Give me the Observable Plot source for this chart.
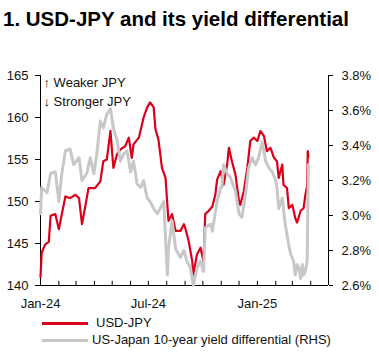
<!DOCTYPE html>
<html>
<head>
<meta charset="utf-8">
<script src="https://cdn.jsdelivr.net/npm/d3@7"></script>
<script src="https://cdn.jsdelivr.net/npm/@observablehq/plot@0.6"></script>
<style>
  html, body { margin: 0; padding: 0; background: #fff; }
  #wrap { position: relative; width: 379px; height: 354px; font-family: "Liberation Sans", Arial, sans-serif; color: #111; }
  #title { position: absolute; left: 3px; top: 9px; font-size: 20.5px; font-weight: bold; line-height: 20px; white-space: nowrap; color: #000; }
  #chart { position: absolute; left: 0; top: 40px; }
  .sw { position: absolute; height: 3px; }
  .lt { position: absolute; font-size: 13px; line-height: 15px; white-space: nowrap; color: #111; }
</style>
</head>
<body>
<div id="wrap">
  <div id="title">1. USD-JPY and its yield differential</div>
  <div id="chart"></div>
  <div class="sw" style="left:42px; top:322px; width:46px; background:#d9001b;"></div>
  <div class="lt" style="left:96px; top:315px;">USD-JPY</div>
  <div class="sw" style="left:42px; top:339px; width:46px; height:3px; background:#c8c8c8;"></div>
  <div class="lt" style="left:92px; top:332px;">US-Japan 10-year yield differential (RHS)</div>
</div>
<script>
// ---- data ----
const usdJpyDates = [
  "2024-01-01","2024-01-03","2024-01-09","2024-01-15","2024-01-18","2024-01-26","2024-02-01","2024-02-06",
  "2024-02-12","2024-02-20","2024-02-29","2024-03-06","2024-03-11","2024-03-17","2024-03-22","2024-04-02",
  "2024-04-11","2024-04-16","2024-04-22","2024-04-28","2024-05-03","2024-05-09","2024-05-15","2024-05-23",
  "2024-05-29","2024-06-03","2024-06-06","2024-06-15","2024-06-23","2024-06-29","2024-07-04","2024-07-10",
  "2024-07-13","2024-07-18","2024-07-24","2024-07-30","2024-08-02","2024-08-04","2024-08-10","2024-08-16",
  "2024-08-24","2024-08-30","2024-09-01","2024-09-07","2024-09-13","2024-09-15","2024-09-21","2024-09-27",
  "2024-10-02","2024-10-05","2024-10-11","2024-10-17","2024-10-22","2024-10-25","2024-10-31","2024-11-05",
  "2024-11-11","2024-11-14","2024-11-19","2024-11-25","2024-12-01","2024-12-03","2024-12-09","2024-12-15",
  "2024-12-20","2024-12-26","2025-01-01","2025-01-06","2025-01-12","2025-01-17","2025-01-23","2025-01-29",
  "2025-02-03","2025-02-06","2025-02-12","2025-02-14","2025-02-20","2025-02-23","2025-03-01","2025-03-06",
  "2025-03-09","2025-03-15","2025-03-20","2025-03-23","2025-03-26","2025-03-27","2025-03-28"
];
const usdJpyValues = [
  141.0,143.9,144.9,145.2,148.3,148.5,146.7,148.5,
  150.6,150.4,150.8,150.4,147.3,149.6,151.6,151.6,
  152.4,154.8,155.0,158.4,154.0,155.6,156.2,156.6,
  157.6,155.2,156.8,157.6,160.0,161.2,161.8,161.2,
  158.6,157.4,154.0,152.8,149.7,147.7,148.5,146.5,
  146.5,147.3,146.9,145.3,142.9,141.3,143.7,144.5,
  142.9,148.5,148.9,149.4,150.8,152.6,153.6,152.0,
  154.4,156.4,154.8,153.2,150.0,149.6,151.2,154.0,
  157.2,157.6,157.2,158.4,157.8,156.0,156.4,155.2,
  154.8,152.8,154.4,152.0,151.6,149.2,149.6,148.0,
  147.5,148.9,149.2,150.8,151.9,156.0,155.3
];
const spreadDates = [
  "2024-01-01","2024-01-03","2024-01-12","2024-01-18","2024-01-26","2024-02-01","2024-02-06","2024-02-12",
  "2024-02-20","2024-02-26","2024-03-06","2024-03-11","2024-03-19","2024-03-25","2024-03-31","2024-04-05",
  "2024-04-11","2024-04-16","2024-04-22","2024-04-28","2024-05-03","2024-05-09","2024-05-15","2024-05-20",
  "2024-05-26","2024-06-01","2024-06-06","2024-06-12","2024-06-18","2024-06-23","2024-06-29","2024-07-04",
  "2024-07-10","2024-07-16","2024-07-21","2024-07-27","2024-08-02","2024-08-04","2024-08-10","2024-08-16",
  "2024-08-24","2024-08-30","2024-09-04","2024-09-10","2024-09-15","2024-09-21","2024-09-27","2024-10-02",
  "2024-10-05","2024-10-14","2024-10-17","2024-10-25","2024-10-31","2024-11-02","2024-11-05","2024-11-11",
  "2024-11-16","2024-11-25","2024-12-01","2024-12-06","2024-12-12","2024-12-17","2024-12-23","2024-12-29",
  "2025-01-03","2025-01-09","2025-01-15","2025-01-21","2025-01-26","2025-02-01","2025-02-03","2025-02-06",
  "2025-02-12","2025-02-17","2025-02-23","2025-02-26","2025-03-03","2025-03-06","2025-03-09","2025-03-12",
  "2025-03-15","2025-03-18","2025-03-20","2025-03-23","2025-03-26","2025-03-28"
];
const spreadValues = [
  3.01,3.16,3.13,3.24,3.25,3.08,3.24,3.37,
  3.38,3.29,3.33,3.20,3.24,3.33,3.24,3.35,
  3.54,3.50,3.58,3.61,3.50,3.43,3.31,3.35,
  3.37,3.25,3.31,3.18,3.16,3.20,3.10,3.08,
  3.04,3.01,3.04,3.08,2.66,2.81,2.97,2.81,
  2.76,2.80,2.74,2.70,2.60,2.70,2.74,2.68,
  2.93,2.95,2.91,3.08,3.16,3.16,3.29,3.24,
  3.22,3.14,3.01,2.99,3.12,3.27,3.33,3.29,
  3.33,3.42,3.31,3.27,3.25,3.20,3.16,3.04,
  3.10,2.95,2.83,2.78,2.74,2.66,2.72,2.70,
  2.64,2.72,2.66,2.68,2.74,3.29
];
const leftTicks = [140, 145, 150, 155, 160, 165];
const rightTicks = [2.6, 2.8, 3.0, 3.2, 3.4, 3.6, 3.8];
const xLabelDates = ["2024-01-01", "2024-07-01", "2025-01-01"];
const xStart = "2024-01-01";
const xEnd = "2025-05-01";
const annotation = ["\u2191 Weaker JPY\n\u2193 Stronger JPY"];

// ---- build ----
const parse = d3.utcParse("%Y-%m-%d");
const yLo = leftTicks[0], yHi = leftTicks[leftTicks.length - 1];
const rLo = rightTicks[0], rHi = rightTicks[rightTicks.length - 1];
const toLeft = (p) => yLo + (p - rLo) / (rHi - rLo) * (yHi - yLo);
const fromLeft = (v) => rLo + (v - yLo) / (yHi - yLo) * (rHi - rLo);

const red = usdJpyDates.map((d, i) => ({date: parse(d), value: usdJpyValues[i]}));
const gray = spreadDates.map((d, i) => ({date: parse(d), value: spreadValues[i]}));
const monthTicks = d3.utcMonth.range(parse(xStart), d3.utcDay.offset(parse(xEnd), 1));

const chart = Plot.plot({
  width: 379,
  height: 275,
  marginTop: 35,
  marginBottom: 30,
  marginLeft: 40,
  marginRight: 51,
  style: {fontFamily: "Liberation Sans, Arial, sans-serif", fontSize: "13px", color: "#111", background: "#fff"},
  x: {type: "utc", domain: [parse(xStart), parse(xEnd)]},
  y: {domain: [yLo, yHi]},
  marks: [
    Plot.ruleY([yLo], {stroke: "#000", strokeWidth: 1}),
    Plot.ruleX([parse(xStart), parse(xEnd)], {y1: yLo, y2: yHi, stroke: "#000", strokeWidth: 1}),
    Plot.ruleX(monthTicks, {y1: yLo, y2: yLo + 0.5, stroke: "#000", strokeWidth: 1}),
    Plot.axisY(leftTicks, {anchor: "left", tickSize: 5, tickPadding: 7, fontSize: 13, stroke: "#000", label: null}),
    Plot.axisY(rightTicks.map(toLeft), {anchor: "right", tickSize: 4, tickPadding: 9, fontSize: 13, stroke: "#000", label: null,
      tickFormat: (v) => fromLeft(v).toFixed(1) + "%"}),
    Plot.axisX(xLabelDates.map(parse), {anchor: "bottom", tickSize: 0, tickPadding: 13, fontSize: 13, label: null,
      tickFormat: d3.utcFormat("%b-%y")}),
    Plot.lineY(red, {x: "date", y: "value", stroke: "#d9001b", strokeWidth: 2.2}),
    Plot.lineY(gray, {x: "date", y: (d) => toLeft(d.value), stroke: "#c8c8c8", strokeWidth: 3}),
    Plot.text(annotation, {frameAnchor: "top-left", dx: 3, dy: -2, fontSize: 13, lineHeight: 1.45, fill: "#111", textAnchor: "start"})
  ]
});
document.getElementById("chart").appendChild(chart);
</script>
</body>
</html>
